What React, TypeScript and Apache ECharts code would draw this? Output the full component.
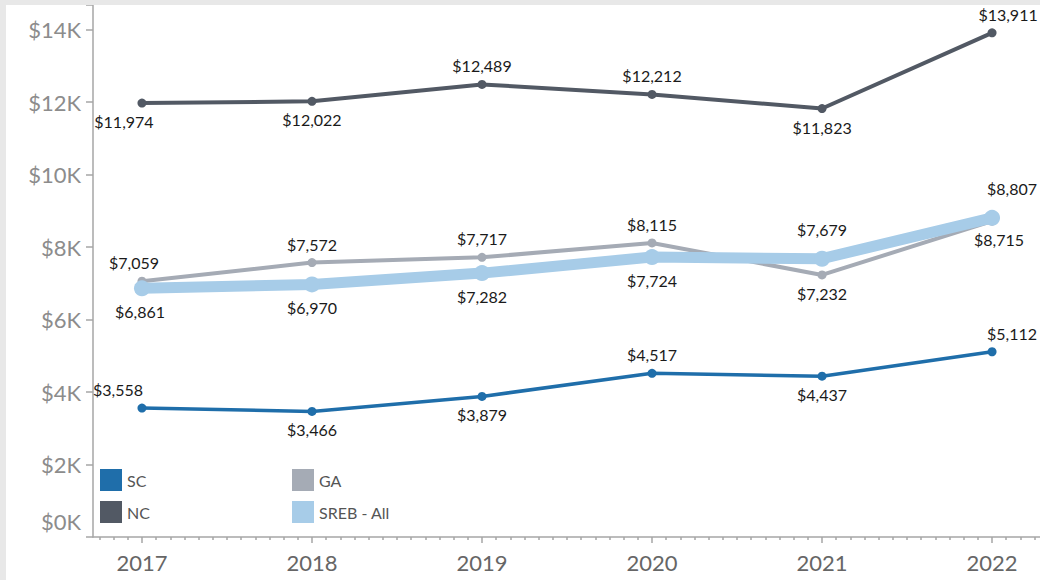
import React, { useEffect, useRef } from "react";
import * as echarts from "echarts";

const years = [2017, 2018, 2019, 2020, 2021, 2022];
const scValues = [3558, 3466, 3879, 4517, 4437, 5112];
const ncValues = [11974, 12022, 12489, 12212, 11823, 13911];
const gaValues = [7059, 7572, 7717, 8115, 7232, 8715];
const srebValues = [6861, 6970, 7282, 7724, 7679, 8807];

const scPos = ["top", "bottom", "bottom", "top", "bottom", "top"];
const ncPos = ["bottom", "bottom", "top", "top", "bottom", "top"];
const gaPos = ["top", "top", "top", "top", "bottom", "bottom"];
const srebPos = ["bottom", "bottom", "bottom", "bottom", "top", "top"];

const scShift = [-24, 0, 0, 0, 0, 20];
const ncShift = [-18, 0, 0, 0, 0, 16];
const gaShift = [-8, 0, 0, 0, 0, 7];
const srebShift = [-2, 0, 0, 0, 0, 20];

const yTicks = [0, 2000, 4000, 6000, 8000, 10000, 12000, 14000];

const FONT = "Lato";
const X_MIN = 2016.712;
const X_MAX = 2022.282;

const fmt = (v: number) => "$" + v.toLocaleString("en-US");

function buildData(values: number[], pos: string[], shift: number[], dist: number, distTop?: number) {
  return values.map((v, i) => ({
    value: [years[i], v],
    label: {
      position: pos[i],
      offset: [shift[i], 0],
      distance: pos[i] === "top" && distTop !== undefined ? distTop : dist,
    },
  }));
}

export default function App() {
  const ref = useRef<HTMLDivElement>(null);

  useEffect(() => {
    if (!ref.current) return;
    const chart = echarts.init(ref.current, undefined, { renderer: "svg" });

    const minorTicks: number[] = [];
    for (let y = 2016; y <= 2022; y++) {
      for (let m = 1; m < 12; m++) {
        const v = y + m / 12;
        if (v > X_MIN && v < X_MAX) minorTicks.push(v);
      }
    }

    const labelBase = {
      show: true,
      fontFamily: FONT,
      fontSize: 16,
      color: "#1a1a1a",
      formatter: (p: any) => fmt(p.value[1]),
    };

    const mkSeries = (
      name: string,
      color: string,
      values: number[],
      pos: string[],
      shift: number[],
      lineWidth: number,
      symbolSize: number,
      dist: number,
      distTop?: number
    ) => ({
      name,
      type: "line",
      data: buildData(values, pos, shift, dist, distTop),
      symbol: "circle",
      symbolSize,
      itemStyle: { color },
      lineStyle: { color, width: lineWidth },
      label: { ...labelBase, distance: dist },
      emphasis: { disabled: true },
    });

    const legendText = { fontFamily: FONT, fontSize: 16, color: "#555" };

    chart.setOption({
      animation: false,
      backgroundColor: "#ffffff",
      grid: { left: 87, right: 0, top: 0, bottom: 43, containLabel: false },
      legend: [
        {
          data: ["SC", "NC"],
          orient: "vertical",
          left: 94,
          top: 464,
          padding: 0,
          itemWidth: 22,
          itemHeight: 22,
          itemGap: 10,
          icon: "rect",
          textStyle: legendText,
          selectedMode: false,
        },
        {
          data: ["GA", "SREB - All"],
          orient: "vertical",
          left: 286,
          top: 464,
          padding: 0,
          itemWidth: 22,
          itemHeight: 22,
          itemGap: 10,
          icon: "rect",
          textStyle: legendText,
          selectedMode: false,
        },
      ],
      xAxis: [
        {
          type: "value",
          min: X_MIN,
          max: X_MAX,
          position: "bottom",
          splitLine: { show: false },
          axisLine: { show: true, lineStyle: { color: "#a6a6a6", width: 1.5 } },
          axisTick: {
            show: true,
            customValues: years,
            length: 6,
            lineStyle: { color: "#a6a6a6", width: 1.5 },
          },
          axisLabel: {
            customValues: years,
            formatter: (v: number) => String(Math.round(v)),
            fontFamily: FONT,
            fontSize: 22,
            color: "#666",
            margin: 14,
          },
        },
        {
          type: "value",
          min: X_MIN,
          max: X_MAX,
          position: "bottom",
          splitLine: { show: false },
          axisLine: { show: false },
          axisTick: {
            show: true,
            customValues: minorTicks,
            length: 3,
            lineStyle: { color: "#a6a6a6", width: 1.5 },
          },
          axisLabel: { show: false },
        },
      ],
      yAxis: {
        type: "value",
        min: 0,
        max: 14680,
        interval: 2000,
        splitLine: { show: false },
        axisLine: { show: true, lineStyle: { color: "#a6a6a6", width: 1.5 } },
        axisTick: { show: true, length: 7, lineStyle: { color: "#a6a6a6", width: 1.5 } },
        axisLabel: {
          customValues: yTicks,
          fontFamily: FONT,
          fontSize: 22,
          color: "#8c8c8c",
          margin: 12,
          formatter: (v: number) => (v === 0 ? "{z|$0K}" : "$" + v / 1000 + "K"),
          rich: {
            z: {
              fontFamily: FONT,
              fontSize: 22,
              color: "#8c8c8c",
              padding: [0, 0, 32, 0],
            },
          },
        },
      },
      series: [
        mkSeries("SC", "#1f6eaa", scValues, scPos, scShift, 3.5, 9, 6),
        mkSeries("NC", "#525964", ncValues, ncPos, ncShift, 4, 9, 6),
        mkSeries("GA", "#a5abb5", gaValues, gaPos, gaShift, 4, 9, 6),
        mkSeries("SREB - All", "#a7cce8", srebValues, srebPos, srebShift, 11, 16, 7, 13),
      ],
    });

    return () => chart.dispose();
  }, []);

  return (
    <div
      style={{
        position: "fixed",
        left: 0,
        top: 0,
        width: 1040,
        height: 580,
        background: "#e8e8e8",
      }}
    >
      <div
        ref={ref}
        style={{
          position: "absolute",
          left: 6,
          top: 5,
          width: 1034,
          height: 575,
          background: "#ffffff",
        }}
      />
    </div>
  );
}
